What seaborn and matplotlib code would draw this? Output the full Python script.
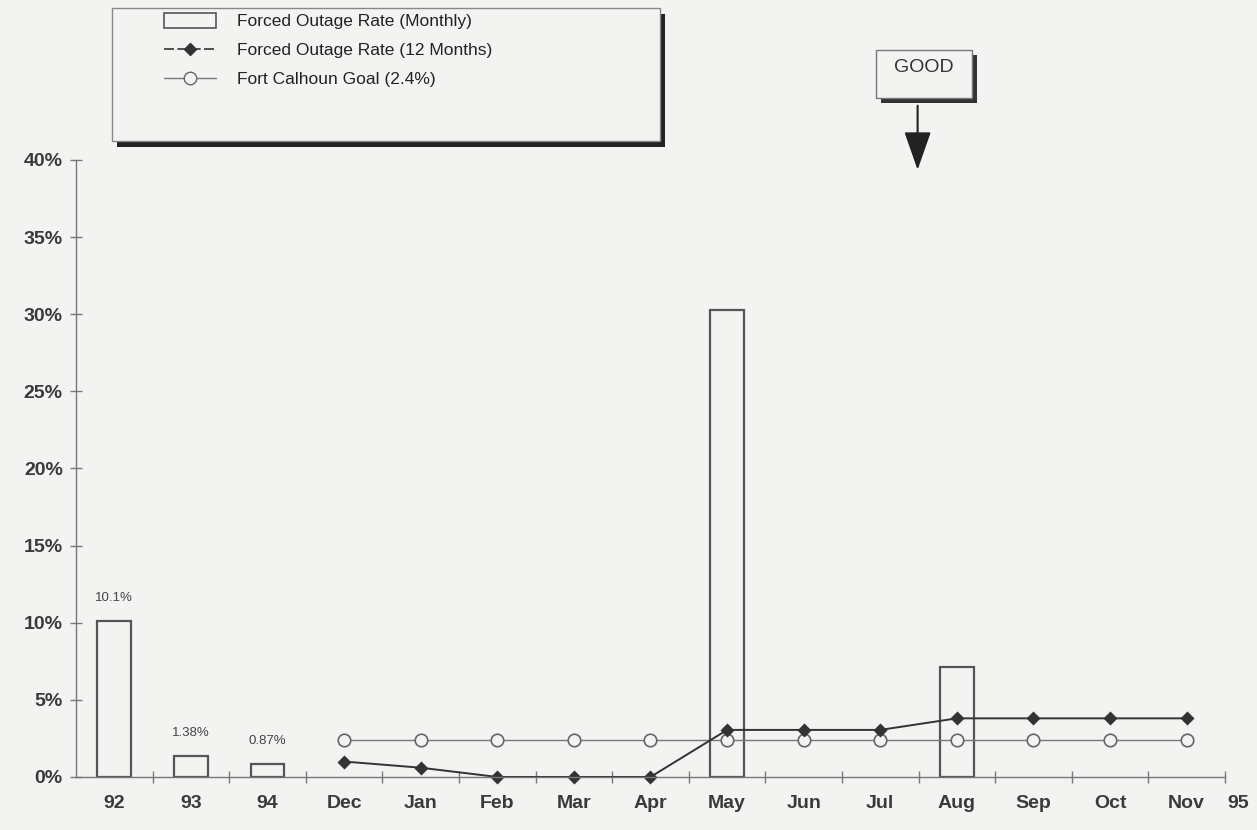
import numpy as np
import pandas as pd
import matplotlib
matplotlib.use("Agg")
import matplotlib.pyplot as plt
import seaborn as sns
from matplotlib.lines import Line2D
from matplotlib.patches import Rectangle, Patch

# ---------------- data ----------------
categories = ["92", "93", "94", "Dec", "Jan", "Feb", "Mar", "Apr",
              "May", "Jun", "Jul", "Aug", "Sep", "Oct", "Nov"]
monthly_rate = [10.1, 1.38, 0.87, np.nan, np.nan, np.nan, np.nan, np.nan,
                30.3, np.nan, np.nan, 7.1, np.nan, np.nan, np.nan]
twelve_month_rate = [np.nan, np.nan, np.nan, 1.0, 0.6, 0.0, 0.0, 0.0,
                     3.05, 3.05, 3.05, 3.8, 3.8, 3.8, 3.8]
goal_rate = [np.nan, np.nan, np.nan, 2.4, 2.4, 2.4, 2.4, 2.4,
             2.4, 2.4, 2.4, 2.4, 2.4, 2.4, 2.4]
bar_value_labels = {"92": "10.1%", "93": "1.38%", "94": "0.87%"}
y_ticks = [0, 5, 10, 15, 20, 25, 30, 35, 40]
legend_labels = ["Forced Outage Rate (Monthly)",
                 "Forced Outage Rate (12 Months)",
                 "Fort Calhoun Goal (2.4%)"]

df = pd.DataFrame({"cat": categories, "monthly": monthly_rate,
                   "twelve": twelve_month_rate, "goal": goal_rate})

BG = "#f3f3f1"
INK = "#3a3a3a"

sns.set_theme(style="white")
plt.rcParams["font.family"] = ["Liberation Sans", "DejaVu Sans"]

fig = plt.figure(figsize=(12.57, 8.30), dpi=100, facecolor=BG)
ax = fig.add_axes([0.0605, 0.0639, 0.914, 0.7434], facecolor=BG)

# bars
sns.barplot(data=df, x="cat", y="monthly", order=categories, errorbar=None,
            width=0.44, color=BG, edgecolor="#555555", linewidth=1.6,
            saturation=1, ax=ax)

# goal line
sns.pointplot(data=df, x="cat", y="goal", order=categories, errorbar=None,
              color="#777777", markers="o", linestyles="-", ax=ax,
              linewidth=1.0, markersize=9, markerfacecolor=BG,
              markeredgecolor="#666666", markeredgewidth=1.2)

# 12 months line
sns.pointplot(data=df, x="cat", y="twelve", order=categories, errorbar=None,
              color="#333333", markers="D", linestyles="-", ax=ax,
              linewidth=1.4, markersize=6.5)

for ln in ax.lines:
    ln.set_clip_on(False)

# bar value labels
for i, c in enumerate(categories):
    if c in bar_value_labels:
        v = monthly_rate[i]
        ax.annotate(bar_value_labels[c], xy=(i, v), xytext=(0, 12),
                    textcoords="offset points", ha="center", va="bottom",
                    fontsize=9.5, color="#444444")

ax.set_xlim(-0.5, len(categories) - 0.5)
ax.set_ylim(0, 40)
ax.set_yticks(y_ticks)
ax.set_yticklabels([f"{t}%" for t in y_ticks])
ax.set_xticks(range(len(categories)))
ax.set_xticklabels(categories)
ax.set_xticks(np.arange(0.5, len(categories), 1.0), minor=True)
ax.set_xlabel("")
ax.set_ylabel("")

ax.tick_params(axis="x", which="major", length=0, pad=13, labelsize=14,
               labelcolor=INK)
ax.tick_params(axis="x", which="minor", length=9, direction="inout",
               color="#777777", width=1)
ax.tick_params(axis="y", which="major", length=9, direction="inout",
               color="#777777", width=1, pad=5, labelsize=14, labelcolor=INK)
ax.xaxis.set_tick_params(bottom=True, which="minor")
ax.yaxis.set_tick_params(left=True)
for t in ax.get_xticklabels() + ax.get_yticklabels():
    t.set_fontweight("bold")

sns.despine(ax=ax)
for s in ["left", "bottom"]:
    ax.spines[s].set_color("#777777")
    ax.spines[s].set_linewidth(1.0)

# "95" after last label
ax.annotate("95", xy=(len(categories) - 0.5, 0), xytext=(2, -13),
            textcoords="offset points", ha="left", va="top", fontsize=14,
            fontweight="bold", color=INK, annotation_clip=False)

# ---------------- legend box ----------------
lx0, ly0, lw, lh = 0.089, 0.830, 0.436, 0.160
fig.patches.append(Rectangle((lx0 + 0.004, ly0 - 0.007), lw, lh,
                             transform=fig.transFigure, facecolor="#222222",
                             edgecolor="none", zorder=1))
fig.patches.append(Rectangle((lx0, ly0), lw, lh, transform=fig.transFigure,
                             facecolor=BG, edgecolor="#888888", linewidth=1.0,
                             zorder=2))
handles = [
    Patch(facecolor=BG, edgecolor="#555555", linewidth=1.2),
    Line2D([], [], color="#333333", marker="D", markersize=6, linewidth=1.2,
           linestyle=(0, (6, 2))),
    Line2D([], [], color="#777777", marker="o", markersize=9, linewidth=1.0,
           markerfacecolor=BG, markeredgecolor="#666666"),
]
leg = fig.legend(handles, legend_labels, loc="upper left",
                 bbox_to_anchor=(0.118, 1.003), frameon=False,
                 prop={"size": 12.5},
                 handlelength=3.0, handleheight=0.9, labelspacing=0.74,
                 handletextpad=1.2)
for t in leg.get_texts():
    t.set_color("#222222")

# ---------------- GOOD box ----------------
gx0, gy0, gw, gh = 0.697, 0.882, 0.076, 0.058
fig.patches.append(Rectangle((gx0 + 0.004, gy0 - 0.006), gw, gh,
                             transform=fig.transFigure, facecolor="#333333",
                             edgecolor="none", zorder=1))
fig.patches.append(Rectangle((gx0, gy0), gw, gh, transform=fig.transFigure,
                             facecolor=BG, edgecolor="#777777", linewidth=1.0,
                             zorder=2))
fig.text(gx0 + gw / 2, gy0 + gh * 0.64, "GOOD", ha="center", va="center",
         fontsize=14, color="#333333", zorder=3)
ax.annotate("", xy=(0.730, 0.792), xycoords="figure fraction",
            xytext=(0.730, 0.876), textcoords="figure fraction",
            arrowprops=dict(arrowstyle="-|>,head_width=0.7,head_length=2.0",
                            color="#222222", lw=1.5),
            annotation_clip=False)

fig.savefig("out.png", dpi=100, facecolor=BG)
